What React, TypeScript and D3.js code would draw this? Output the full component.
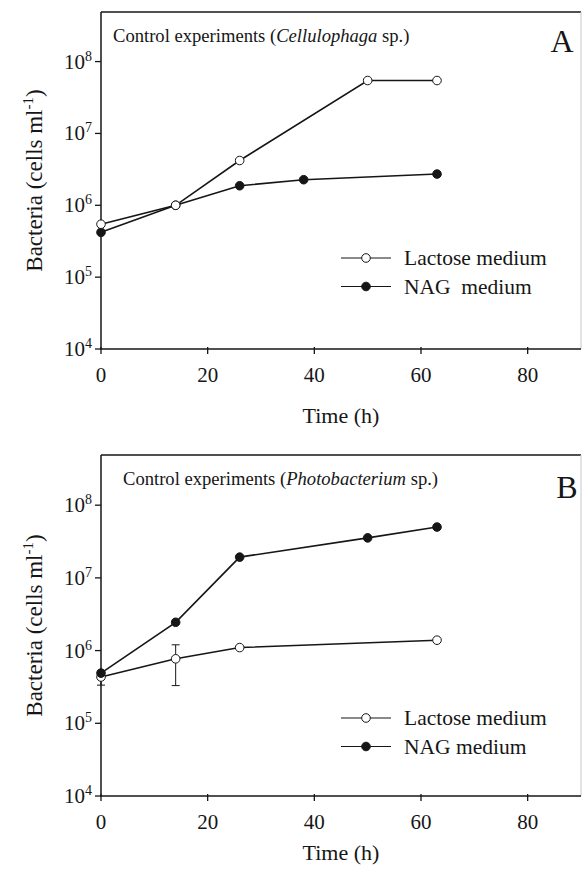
import React from "react";
import * as d3 from "d3";

// ---------- data ----------
const xTicks = [0, 20, 40, 60, 80];
const yTickExps = [4, 5, 6, 7, 8];

// Panel A (Cellulophaga sp.)
const timeALactose = [0, 14, 26, 50, 63];
const cellsALactose = [5.45e5, 1.0e6, 4.2e6, 5.45e7, 5.45e7];
const timeANag = [0, 14, 26, 38, 63];
const cellsANag = [4.2e5, 1.0e6, 1.87e6, 2.27e6, 2.72e6];

// Panel B (Photobacterium sp.)
const timeBLactose = [0, 14, 26, 63];
const cellsBLactose = [4.33e5, 7.7e5, 1.1e6, 1.39e6];
const errBLactoseLow = [3.35e5, 3.3e5, null, null];
const errBLactoseHigh = [5.3e5, 1.2e6, null, null];
const timeBNag = [0, 14, 26, 50, 63];
const cellsBNag = [4.9e5, 2.45e6, 1.93e7, 3.55e7, 5.0e7];

const FONT = "'Liberation Serif', 'Times New Roman', serif";
const INK = "#161616";

type Series = {
  t: number[];
  v: number[];
  filled: boolean;
  lo?: (number | null)[];
  hi?: (number | null)[];
};

type PanelProps = {
  top: number;
  bottom: number;
  letter: string;
  letterX: number;
  letterY: number;
  titleX: number;
  species: string;
  series: Series[];
  legendTop: number;
  legendNag: string;
  timeLabelY: number;
};

function Panel(p: PanelProps) {
  const left = 101;
  const right = 581;
  const x = d3.scaleLinear().domain([0, 90]).range([left, right]);
  const y = d3.scaleLog().domain([1e4, Math.pow(10, 8.69)]).range([p.bottom, p.top]);
  const line = d3
    .line<[number, number]>()
    .x((d) => x(d[0]))
    .y((d) => y(d[1]));
  const midY = (p.top + p.bottom) / 2;
  const lx0 = 341, lx1 = 391, lxm = 366, ltx = 404;
  return (
    <g>
      {/* frame */}
      <line x1={left} x2={right} y1={p.top} y2={p.top} stroke={INK} strokeWidth={1.4} />
      <line x1={right} x2={right} y1={p.top} y2={p.bottom} stroke="#c8c8c8" strokeWidth={1} />
      <line x1={left} x2={left} y1={p.top} y2={p.bottom + 0.7} stroke={INK} strokeWidth={1.5} />
      <line x1={left} x2={right} y1={p.bottom} y2={p.bottom} stroke={INK} strokeWidth={1.5} />
      {/* x ticks */}
      {xTicks.map((t) => (
        <g key={"x" + t}>
          <line x1={x(t)} x2={x(t)} y1={p.bottom - 2} y2={p.bottom + 5} stroke={INK} strokeWidth={1.3} />
          <text x={x(t)} y={p.bottom + 33} textAnchor="middle" fontFamily={FONT} fontSize={21} fill={INK}>
            {t}
          </text>
        </g>
      ))}
      {/* y ticks */}
      {yTickExps.map((e) => (
        <g key={"y" + e}>
          <line x1={left - 6} x2={left} y1={y(Math.pow(10, e))} y2={y(Math.pow(10, e))} stroke={INK} strokeWidth={1.3} />
          <text x={left - 9} y={y(Math.pow(10, e)) + 7} textAnchor="end" fontFamily={FONT} fontSize={21} fill={INK}>
            10
            <tspan fontSize={14} dy={-8}>
              {e}
            </tspan>
          </text>
        </g>
      ))}
      {/* axis titles */}
      <text
        transform={`translate(42,${midY}) rotate(-90)`}
        textAnchor="middle"
        fontFamily={FONT}
        fontSize={23}
        fill={INK}
      >
        Bacteria (cells ml
        <tspan fontSize={15} dy={-9}>-1</tspan>
        <tspan dy={9}>)</tspan>
      </text>
      <text x={341} y={p.timeLabelY} textAnchor="middle" fontFamily={FONT} fontSize={22} fill={INK}>
        Time (h)
      </text>
      {/* title and panel letter */}
      <text x={p.titleX} y={p.top + 30} fontFamily={FONT} fontSize={18.6} fill={INK}>
        Control experiments (<tspan fontStyle="italic">{p.species}</tspan> sp.)
      </text>
      <text x={p.letterX} y={p.letterY} textAnchor="middle" fontFamily={FONT} fontSize={32} fill={INK}>
        {p.letter}
      </text>
      {/* series */}
      {p.series.map((s, i) => {
        const pts = s.t.map((t, j) => [t, s.v[j]] as [number, number]);
        return (
          <g key={"s" + i}>
            {s.lo &&
              s.t.map((t, j) =>
                s.lo![j] != null ? (
                  <g key={"e" + j}>
                    <line x1={x(t)} x2={x(t)} y1={y(s.lo![j] as number)} y2={y(s.hi![j] as number)} stroke={INK} strokeWidth={1} />
                    <line x1={x(t) - 4} x2={x(t) + 4} y1={y(s.lo![j] as number)} y2={y(s.lo![j] as number)} stroke={INK} strokeWidth={1} />
                    <line x1={x(t) - 4} x2={x(t) + 4} y1={y(s.hi![j] as number)} y2={y(s.hi![j] as number)} stroke={INK} strokeWidth={1} />
                  </g>
                ) : null
              )}
            <path d={line(pts) || ""} fill="none" stroke={INK} strokeWidth={1.6} />
            {pts.map((d, j) => (
              <circle
                key={j}
                cx={x(d[0])}
                cy={y(d[1])}
                r={4.3}
                fill={s.filled ? INK : "#fff"}
                stroke={INK}
                strokeWidth={1}
              />
            ))}
          </g>
        );
      })}
      {/* legend */}
      <g>
        <line x1={lx0} x2={lx1} y1={p.legendTop} y2={p.legendTop} stroke={INK} strokeWidth={1.2} />
        <circle cx={lxm} cy={p.legendTop} r={4.3} fill="#fff" stroke={INK} strokeWidth={1} />
        <text x={ltx} y={p.legendTop + 7} fontFamily={FONT} fontSize={21.5} fill={INK}>
          Lactose medium
        </text>
        <line x1={lx0} x2={lx1} y1={p.legendTop + 28.5} y2={p.legendTop + 28.5} stroke={INK} strokeWidth={1.2} />
        <circle cx={lxm} cy={p.legendTop + 28.5} r={4.3} fill={INK} stroke={INK} strokeWidth={1} />
        <text x={ltx} y={p.legendTop + 35.5} fontFamily={FONT} fontSize={21.5} fill={INK} style={{ whiteSpace: "pre" }}>
          {p.legendNag}
        </text>
      </g>
    </g>
  );
}

export default function App() {
  const seriesA: Series[] = [
    { t: timeANag, v: cellsANag, filled: true },
    { t: timeALactose, v: cellsALactose, filled: false },
  ];
  const seriesB: Series[] = [
    { t: timeBLactose, v: cellsBLactose, filled: false, lo: errBLactoseLow, hi: errBLactoseHigh },
    { t: timeBNag, v: cellsBNag, filled: true },
  ];
  return (
    <svg
      width={582}
      height={870}
      viewBox="0 0 582 870"
      style={{ position: "absolute", left: 0, top: 0, background: "#fff" }}
    >
      <rect x={0} y={0} width={582} height={870} fill="#fff" />
      <Panel
        top={12}
        bottom={349}
        letter="A"
        letterX={562}
        letterY={52}
        titleX={113}
        species="Cellulophaga"
        series={seriesA}
        legendTop={258}
        legendNag={"NAG  medium"}
        timeLabelY={423}
      />
      <Panel
        top={455}
        bottom={796}
        letter="B"
        letterX={567}
        letterY={498}
        titleX={123}
        species="Photobacterium"
        series={seriesB}
        legendTop={718}
        legendNag={"NAG medium"}
        timeLabelY={860}
      />
    </svg>
  );
}
